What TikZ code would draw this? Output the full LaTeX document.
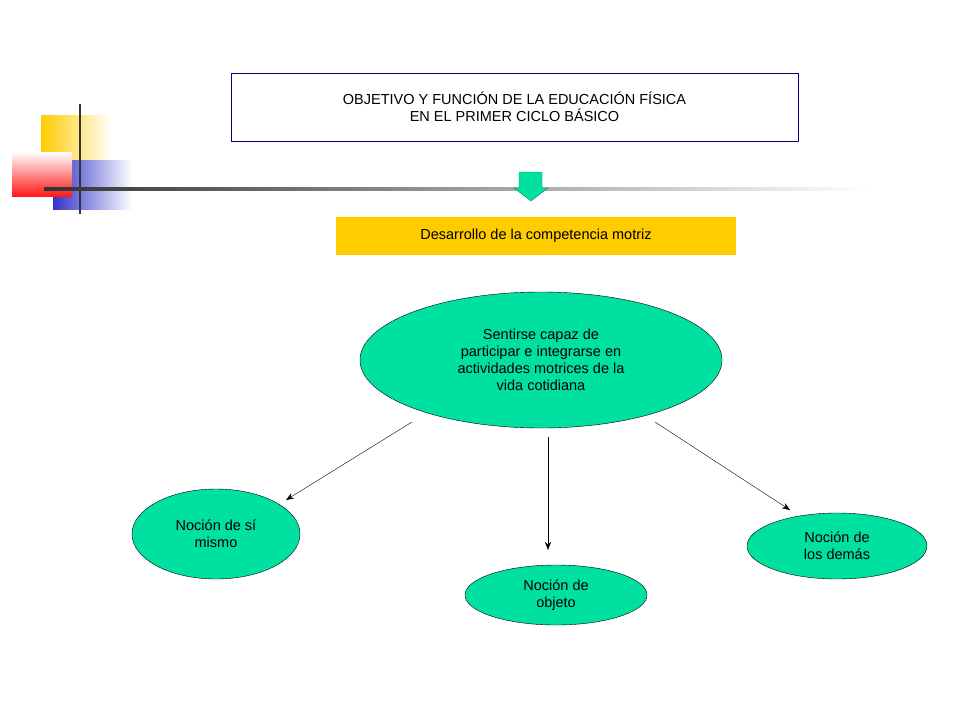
\documentclass[tikz,border=0pt]{standalone}
\usepackage{fontspec}
\setmainfont{Liberation Sans}
\usetikzlibrary{fadings,arrows.meta}
\definecolor{tq}{RGB}{0,224,160}
\definecolor{yel}{RGB}{255,204,0}
\definecolor{blu}{RGB}{51,51,204}
\begin{document}
\begin{tikzpicture}[x=1pt,y=-1pt,
  txt/.style={font=\fontsize{14.5}{17}\selectfont,align=center},
  oval/.style={ellipse,draw=black,fill=tq,txt},
  conn/.style={-{Stealth[length=8pt,width=6pt]},thin}]
\usetikzlibrary{shapes.geometric}
\useasboundingbox (0,0) rectangle (960,720);
% decoration
\fill[yel,path fading=east] (41,115) rectangle (112,160);
\fill[blu,path fading=east] (53,160) rectangle (132,210);
\shade[left color=white, right color=red!90, shading angle=0] (12,152) rectangle (72,196);
\fill[white,opacity=0.0] (0,0) rectangle (1,1);
\draw[line width=2.5pt,black!80] (80,104) -- (80,214);
\shade[left color=black!80,right color=white] (44,187) rectangle (870,190);
% title
\node[draw=blue!50!black,minimum width=567,minimum height=68,txt,inner sep=2] (title) at (514.5,107)
  {OBJETIVO Y FUNCIÓN DE LA EDUCACIÓN FÍSICA\\EN EL PRIMER CICLO BÁSICO};
\node[fill=yel,minimum width=400,minimum height=38,txt] (des) at (536,236) {Desarrollo de la competencia motriz};
\coordinate (ar) at (531,172);
\fill[tq,draw=tq!60!black] (519,172) -- (542,172) -- (542,188) -- (548,188) -- (531,201) -- (514,188) -- (519,188) -- cycle;
\node[oval,minimum width=362,minimum height=136,inner sep=0] (main) at (541,360)
  {Sentirse capaz de\\participar e integrarse en\\actividades motrices de la\\vida cotidiana};
\node[oval,minimum width=168,minimum height=90,inner sep=0] (self) at (216,534) {Noción de sí\\mismo};
\node[oval,minimum width=182,minimum height=60,inner sep=0] (obj) at (556,595) {Noción de\\objeto};
\node[oval,minimum width=180,minimum height=66,inner sep=0] (oth) at (837,546) {Noción de\\los demás};
\coordinate (s1) at (412,422); \coordinate (e1) at (286,500);
\coordinate (s2) at (548,437); \coordinate (e2) at (548,550);
\coordinate (s3) at (655,422); \coordinate (e3) at (790,510);
\draw[conn] (s1) -- (e1);
\draw[conn] (s2) -- (e2);
\draw[conn] (s3) -- (e3);
\end{tikzpicture}
\end{document}
